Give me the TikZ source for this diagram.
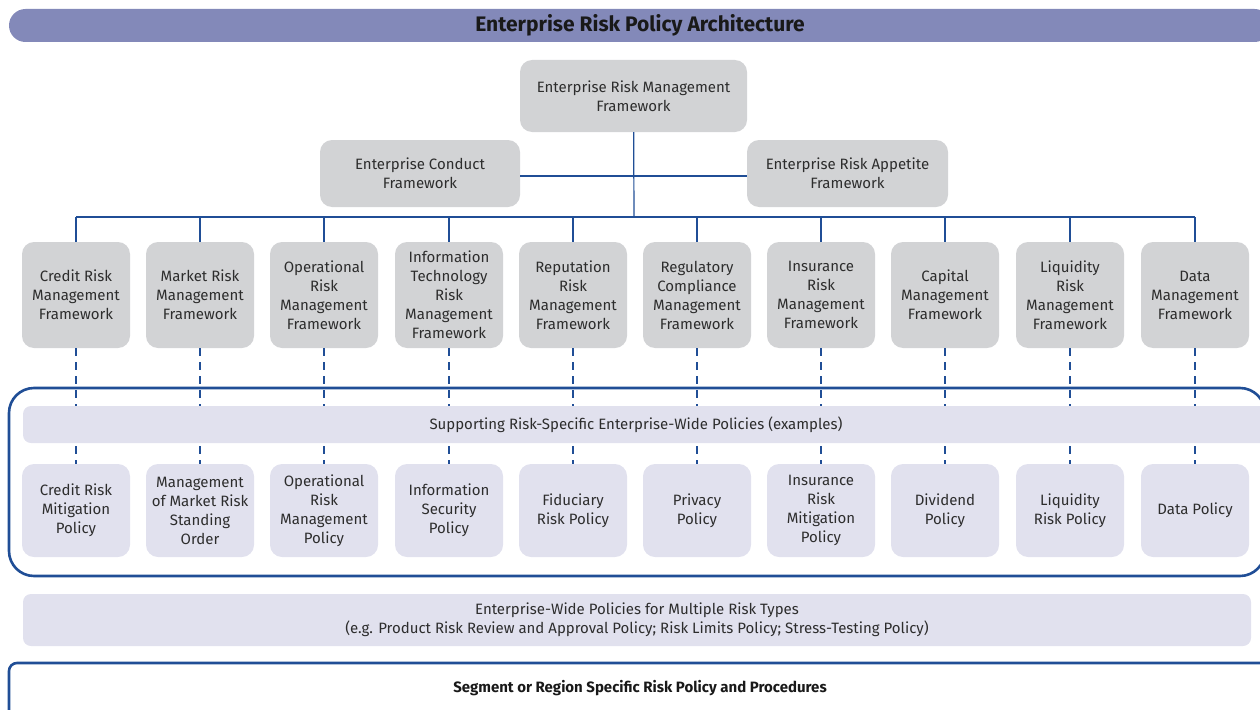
\documentclass[tikz,border=0pt]{standalone}
\usepackage{fontspec}
\setmainfont{Fira Sans}
\usepackage{xcolor}
\usepackage{tikz}
\usetikzlibrary{positioning, calc}
\definecolor{erpbar}{RGB}{131,137,185}
\definecolor{erpgray}{RGB}{210,211,213}
\definecolor{erplilac}{RGB}{225,225,238}
\definecolor{erpblue}{RGB}{32,78,150}
\definecolor{erptext}{RGB}{45,45,45}

\begin{document}
\begin{tikzpicture}[x=1pt,y=-1pt,
    every node/.style={text=erptext,font=\fontsize{15}{19}\selectfont},
    fwbox/.style={fill=erpgray,rounded corners=12pt,minimum width=108pt,minimum height=106pt,align=center,inner sep=0pt},
    polbox/.style={fill=erplilac,rounded corners=12pt,minimum width=108pt,minimum height=93pt,align=center,inner sep=0pt},
    topbox/.style={fill=erpgray,rounded corners=12pt,minimum height=67pt,align=center,inner sep=0pt},
    band/.style={fill=erplilac,rounded corners=8pt,inner sep=0pt},
    link/.style={draw=erpblue,line width=1.2pt},
    dashlink/.style={draw=erpblue,line width=1.2pt,dash pattern=on 8pt off 6pt},
    frame/.style={draw=erpblue,line width=2.6pt,rounded corners=25pt}]

\clip (0,0) rectangle (1260,709);
\useasboundingbox (0,0) rectangle (1260,709);

% title bar
\node[fill=erpbar,rounded corners=16.5pt,minimum width=1262pt,minimum height=33pt,inner sep=0pt] (title) at (640,25.5) {};
\node[text=black!90,font=\fontsize{21}{24}\selectfont\bfseries] (titletxt) at (640,25.5) {Enterprise Risk Policy Architecture};

% top of the hierarchy
\node[topbox,minimum width=227pt,minimum height=72pt] (erm) at (633.5,96) {Enterprise Risk Management\\Framework};
\node[topbox,minimum width=200pt] (conduct) at (420,173.5) {Enterprise Conduct\\Framework};
\node[topbox,minimum width=201pt] (appetite) at (847.5,173.5) {Enterprise Risk Appetite\\Framework};

% risk frameworks
\node[fwbox] (credit) at (76,295) {Credit Risk\\Management\\Framework};
\node[fwbox] (market) at (200,295) {Market Risk\\Management\\Framework};
\node[fwbox] (oprisk) at (324,295) {Operational\\Risk\\Management\\Framework};
\node[fwbox] (itrisk) at (449,295) {Information\\Technology\\Risk\\Management\\Framework};
\node[fwbox] (reput) at (573,295) {Reputation\\Risk\\Management\\Framework};
\node[fwbox] (regcomp) at (697,295) {Regulatory\\Compliance\\Management\\Framework};
\node[fwbox] (insur) at (821,295) {Insurance\\Risk\\Management\\Framework};
\node[fwbox] (capital) at (945,295) {Capital\\Management\\Framework};
\node[fwbox] (liquid) at (1070,295) {Liquidity\\Risk\\Management\\Framework};
\node[fwbox] (datafw) at (1195,295) {Data\\Management\\Framework};

\coordinate (bus) at (634,217);
\draw[link] (erm) -- (bus);
\draw[link] ($(conduct.east)+(0,2.5)$) -- ($(appetite.west)+(0,2.5)$);
\draw[link] (credit.north |- bus) -- (datafw.north |- bus);
\draw[link] (credit.north |- bus) -- (credit);
\draw[link] (market.north |- bus) -- (market);
\draw[link] (oprisk.north |- bus) -- (oprisk);
\draw[link] (itrisk.north |- bus) -- (itrisk);
\draw[link] (reput.north |- bus) -- (reput);
\draw[link] (regcomp.north |- bus) -- (regcomp);
\draw[link] (insur.north |- bus) -- (insur);
\draw[link] (capital.north |- bus) -- (capital);
\draw[link] (liquid.north |- bus) -- (liquid);
\draw[link] (datafw.north |- bus) -- (datafw);

% supporting policies
\node[frame,minimum width=1256pt,minimum height=188pt] (supframe) at (637,482) {};
\node[polbox] (pcredit) at (76,510.5) {Credit Risk\\Mitigation\\Policy};
\node[polbox] (pmarket) at (200,510.5) {Management\\of Market Risk\\Standing\\Order};
\node[polbox] (poprisk) at (324,510.5) {Operational\\Risk\\Management\\Policy};
\node[polbox] (pitrisk) at (449,510.5) {Information\\Security\\Policy};
\node[polbox] (preput) at (573,510.5) {Fiduciary\\Risk Policy};
\node[polbox] (pregcomp) at (697,510.5) {Privacy\\Policy};
\node[polbox] (pinsur) at (821,510.5) {Insurance\\Risk\\Mitigation\\Policy};
\node[polbox] (pcapital) at (945,510.5) {Dividend\\Policy};
\node[polbox] (pliquid) at (1070,510.5) {Liquidity\\Risk Policy};
\node[polbox] (pdata) at (1195,510.5) {Data Policy};

\draw[dashlink] (credit) -- (pcredit);
\draw[dashlink] (market) -- (pmarket);
\draw[dashlink] (oprisk) -- (poprisk);
\draw[dashlink] (itrisk) -- (pitrisk);
\draw[dashlink] (reput) -- (preput);
\draw[dashlink] (regcomp) -- (pregcomp);
\draw[dashlink] (insur) -- (pinsur);
\draw[dashlink] (capital) -- (pcapital);
\draw[dashlink] (liquid) -- (pliquid);
\draw[dashlink] (datafw) -- (pdata);

\node[band,minimum width=1252pt,minimum height=37pt,
  label={[xshift=-13pt]center:Supporting Risk-Specific Enterprise-Wide Policies (examples)}] (support) at (649,424.5) {};

% enterprise-wide policies
\node[band,minimum width=1228pt,minimum height=52pt,align=center] (multi) at (637,620) {Enterprise-Wide Policies for Multiple Risk Types\\(e.g. Product Risk Review and Approval Policy; Risk Limits Policy; Stress-Testing Policy)};

% segment level
\node[draw=erpblue,line width=2.6pt,rounded corners=8pt,minimum width=1262pt,minimum height=70pt,inner sep=0pt] (segment) at (640,698) {};
\node[text=black!90,font=\fontsize{15}{17}\selectfont\bfseries] (segtxt) at (640,688) {Segment or Region Specific Risk Policy and Procedures};
\end{tikzpicture}
\end{document}
